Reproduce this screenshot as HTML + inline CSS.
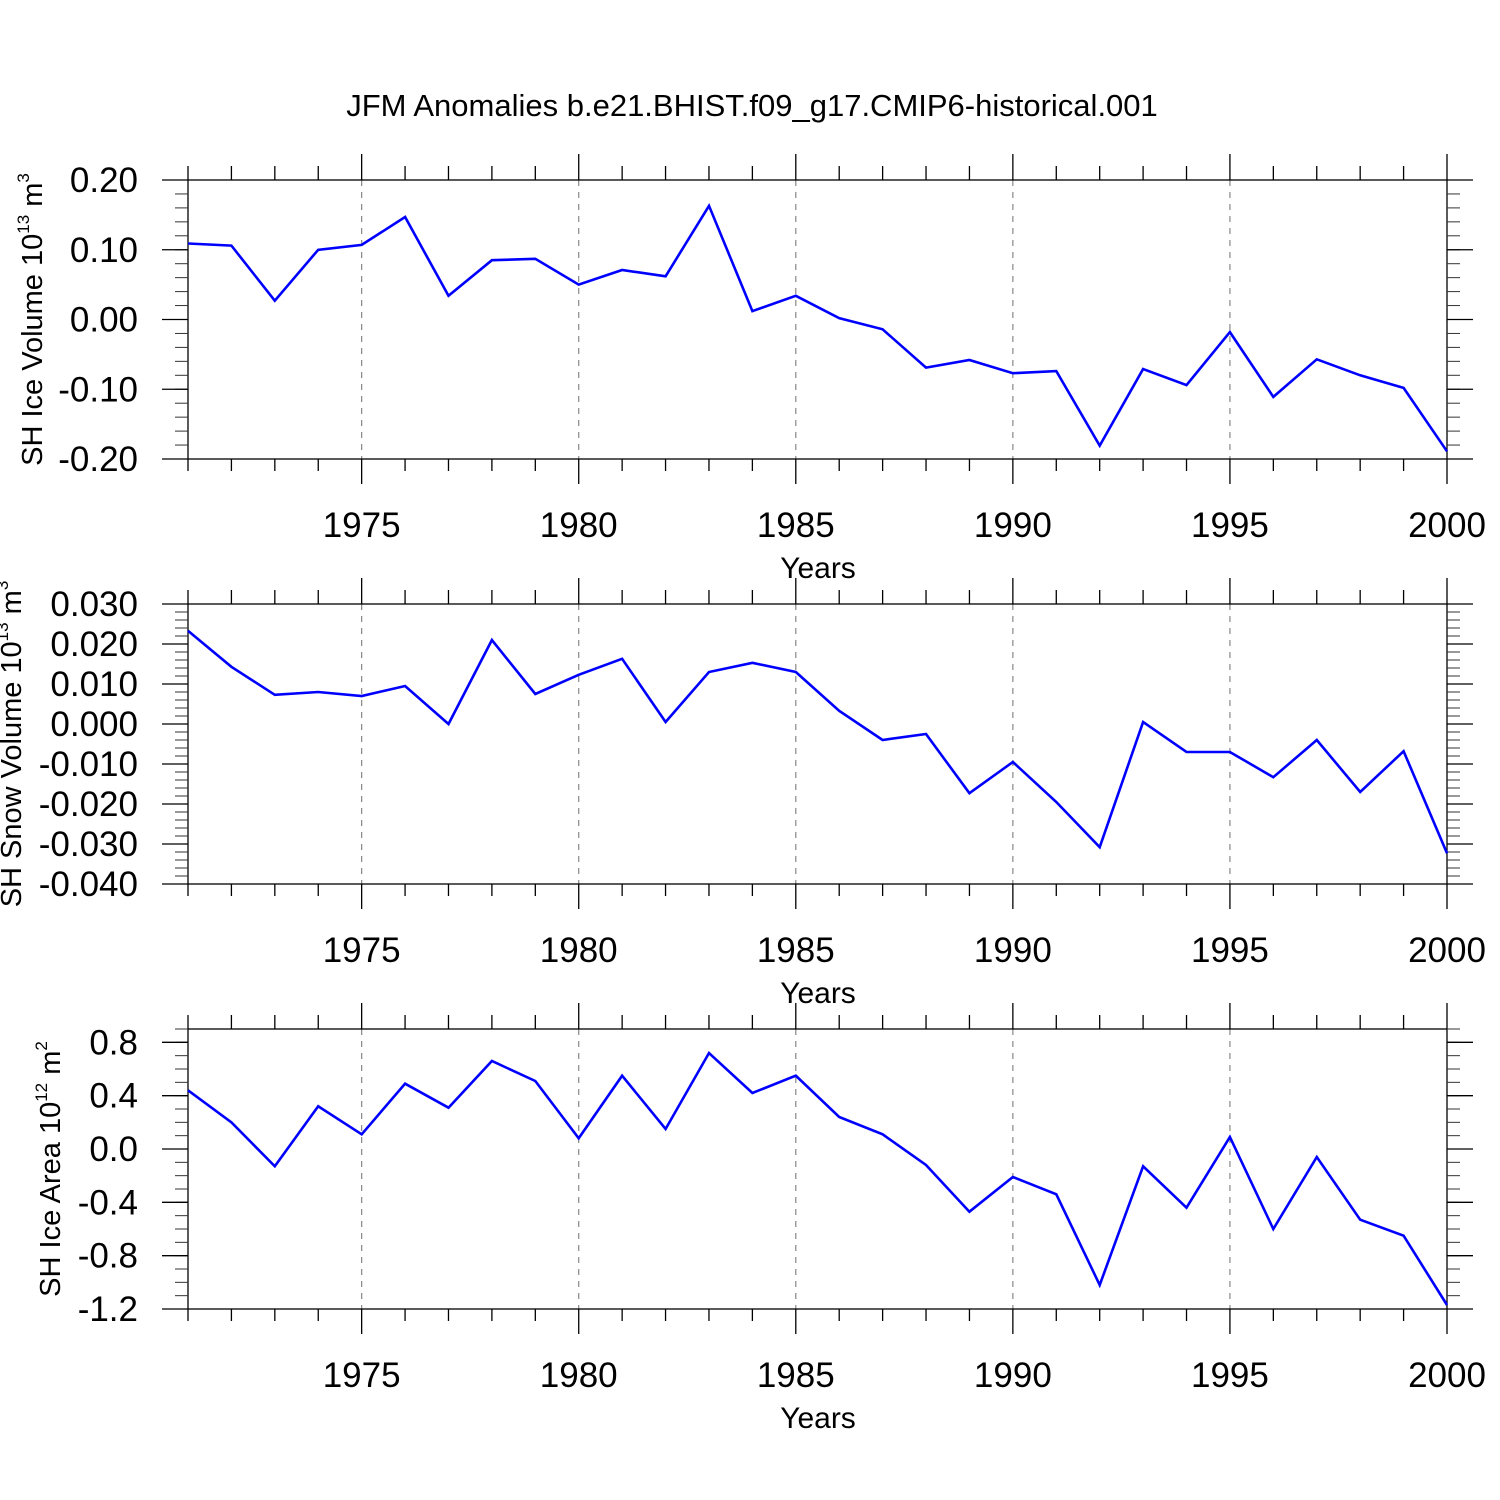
<!DOCTYPE html>
<html><head><meta charset="utf-8"><style>
html,body{margin:0;padding:0;background:#fff;}
svg{display:block;font-family:"Liberation Sans",sans-serif;}
</style></head><body>
<svg id="chart" width="1500" height="1500" viewBox="0 0 1500 1500" xmlns="http://www.w3.org/2000/svg">
<rect width="1500" height="1500" fill="#fff"/>
<text x="752" y="116" font-size="31" text-anchor="middle">JFM Anomalies b.e21.BHIST.f09_g17.CMIP6-historical.001</text>
</svg>
<script>
const years = [1971,1972,1973,1974,1975,1976,1977,1978,1979,1980,1981,1982,1983,1984,1985,1986,1987,1988,1989,1990,1991,1992,1993,1994,1995,1996,1997,1998,1999,2000];
const iceVolume = [0.109,0.106,0.027,0.100,0.107,0.147,0.034,0.085,0.087,0.050,0.071,0.062,0.163,0.012,0.034,0.002,-0.014,-0.069,-0.058,-0.077,-0.074,-0.181,-0.071,-0.094,-0.018,-0.111,-0.057,-0.080,-0.098,-0.189];
const snowVolume = [0.0233,0.0143,0.0073,0.0080,0.0070,0.0095,0.0000,0.0210,0.0075,0.0123,0.0163,0.0005,0.0130,0.0153,0.0130,0.0033,-0.0040,-0.0025,-0.0173,-0.0095,-0.0195,-0.0308,0.0005,-0.0070,-0.0070,-0.0133,-0.0040,-0.0170,-0.0068,-0.0323];
const iceArea = [0.44,0.20,-0.13,0.32,0.11,0.49,0.31,0.66,0.51,0.08,0.55,0.15,0.72,0.42,0.55,0.24,0.11,-0.12,-0.47,-0.21,-0.34,-1.02,-0.13,-0.44,0.09,-0.60,-0.06,-0.53,-0.65,-1.17];
const xTickYears = [1975,1980,1985,1990,1995,2000];
const ticks1 = ["0.20","0.10","0.00","-0.10","-0.20"];
const ticks2 = ["0.030","0.020","0.010","0.000","-0.010","-0.020","-0.030","-0.040"];
const ticks3 = ["0.8","0.4","0.0","-0.4","-0.8","-1.2"];

const svg = document.getElementById('chart');
const NS = 'http://www.w3.org/2000/svg';
const X0 = 188, X1 = 1447, YMIN = 1971, YMAX = 2000;
function xs(yr){ return X0 + (yr - YMIN) / (YMAX - YMIN) * (X1 - X0); }
function mk(tag, attrs, parent){
  const e = document.createElementNS(NS, tag);
  for (const k in attrs) e.setAttribute(k, attrs[k]);
  (parent || svg).appendChild(e);
  return e;
}
function line(g, x1, y1, x2, y2, extra){
  return mk('line', Object.assign({x1:x1, y1:y1, x2:x2, y2:y2, stroke:'#000', 'stroke-width':1.3}, extra || {}), g);
}

function panel(cfg){
  const g = mk('g', {});
  
  
  const top = cfg.top, bot = cfg.bot;
  const ys = v => top + (cfg.vmax - v) / (cfg.vmax - cfg.vmin) * (bot - top);
  xTickYears.slice(0, 5).forEach(yr => {
    const l = line(g, xs(yr), top, xs(yr), bot, {stroke:'#888', 'stroke-dasharray':'6,6', 'stroke-width':1.2});
    
    
  });
  const fr = mk('rect', {x:X0, y:top, width:X1 - X0, height:bot - top, fill:'none', stroke:'#000', 'stroke-width':1.3}, g);
  
  
  years.forEach(yr => {
    const major = yr % 5 === 0;
    const x = xs(yr);
    line(g, x, top, x, top - (major ? 26 : 14));
    line(g, x, bot, x, bot + (major ? 25 : 12));
  });
  xTickYears.forEach(yr => {
    const t = mk('text', {x:xs(yr), y:bot + 78, 'font-size':35, 'text-anchor':'middle'}, g);
    
    
    t.textContent = yr;
  });
  const xt = mk('text', {x:818, y:bot + 119, 'font-size':30, 'text-anchor':'middle'}, g);
  
  
  xt.textContent = 'Years';
  const n = Math.round((cfg.vmax - cfg.vmin) / cfg.minor);
  for (let i = 0; i <= n; i++){
    const y = top + i * (bot - top) / n;
    line(g, X0, y, X0 - 13, y, {stroke:'#333', 'stroke-width':1});
    line(g, X1, y, X1 + 13, y, {stroke:'#333', 'stroke-width':1});
  }
  cfg.ticks.forEach(lbl => {
    const y = ys(parseFloat(lbl));
    line(g, X0, y, X0 - 26, y);
    line(g, X1, y, X1 + 26, y);
    const t = mk('text', {x:138, y:y + 12, 'font-size':35, 'text-anchor':'end'}, g);
    
    
    t.textContent = lbl;
  });
  const yt = mk('text', {transform:`translate(${cfg.titleX},${(top + bot) / 2}) rotate(-90)`, 'font-size':29, 'text-anchor':'middle'}, g);
  
  
  yt.innerHTML = cfg.title;
  const pts = years.map((yr, i) => xs(yr).toFixed(1) + ',' + ys(cfg.data[i]).toFixed(1)).join(' ');
  const pl = mk('polyline', {points:pts, fill:'none', stroke:'#0000ff', 'stroke-width':2.6, 'stroke-linejoin':'miter'}, g);
  
  
}

panel({name:'ice-volume-panel', top:180, bot:459, vmax:0.20, vmin:-0.20, minor:0.02, ticks:ticks1, data:iceVolume, titleX:42,
  title:'SH Ice Volume 10<tspan font-size="17" dy="-13">13</tspan><tspan dy="13"> m</tspan><tspan font-size="17" dy="-13">3</tspan>'});
panel({name:'snow-volume-panel', top:604, bot:884, vmax:0.030, vmin:-0.040, minor:0.002, ticks:ticks2, data:snowVolume, titleX:21,
  title:'SH Snow Volume 10<tspan font-size="17" dy="-13">13</tspan><tspan dy="13"> m</tspan><tspan font-size="17" dy="-13">3</tspan>'});
panel({name:'ice-area-panel', top:1029, bot:1309, vmax:0.9, vmin:-1.2, minor:0.1, ticks:ticks3, data:iceArea, titleX:60,
  title:'SH Ice Area 10<tspan font-size="17" dy="-13">12</tspan><tspan dy="13"> m</tspan><tspan font-size="17" dy="-13">2</tspan>'});
</script>
</body></html>
